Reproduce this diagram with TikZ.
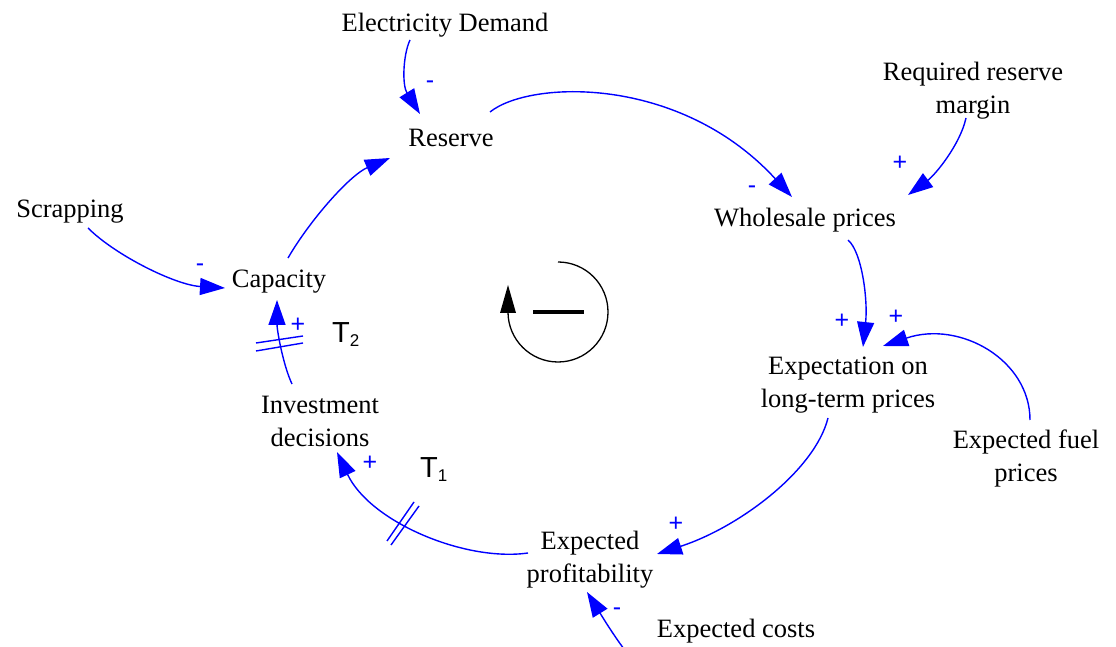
\documentclass[tikz,border=0pt]{standalone}
\usepackage{fontspec}
\setmainfont{Liberation Serif}
\newfontfamily\lsans{Liberation Sans}
\usetikzlibrary{arrows.meta}
\begin{document}
\begin{tikzpicture}[x=1pt,y=1pt,
  lbl/.style={font=\fontsize{26.5}{33}\selectfont, align=center, inner sep=0pt},
  link/.style={draw=blue, line width=1.4pt, -{Triangle[length=25pt,width=17pt]}},
  pol/.style={text=blue, font=\lsans\fontsize{25}{25}\selectfont, inner sep=0pt},
  hash/.style={draw=blue, line width=1.4pt},
  delay/.style={font=\lsans\fontsize{29}{29}\selectfont, inner sep=0pt, anchor=base west}]
\useasboundingbox (0,0) rectangle (1116,647);
% nodes
\node[lbl] (ed) at (445,622) {Electricity Demand};
\node[lbl] (res) at (451,509) {Reserve};
\node[lbl] (rrm) at (973,556) {Required reserve\\margin};
\node[lbl] (wp) at (805,427) {Wholesale prices};
\node[lbl] (scr) at (70,435) {Scrapping};
\node[lbl] (cap) at (279,365) {Capacity};
\node[lbl] (elp) at (848,262) {Expectation on\\long-term prices};
\node[lbl] (efp) at (1026,189) {Expected fuel\\prices};
\node[lbl] (inv) at (320,226) {Investment\\decisions};
\node[lbl] (prof) at (590,87) {Expected\\profitability};
\node[lbl] (ec) at (736,16) {Expected costs};
\coordinate (ecin) at (624,-2);
% links
\draw[link] ([shift={(-35,-15)}]ed.center) .. controls (403,592) and (402,562) .. ([shift={(-31,24)}]res.center);
\draw[link] ([shift={(39,26)}]res.center) .. controls (530,567) and (680,572) .. ([shift={(-13,23)}]wp.center);
\draw[link] ([shift={(-7,-27)}]rrm.center) .. controls (960,502) and (935,472) .. ([shift={(103,25)}]wp.center);
\draw[link] ([shift={(43,-20)}]wp.center) .. controls (862,395) and (868,347) .. ([shift={(15,38)}]elp.center);
\draw[link] ([shift={(4,38)}]efp.center) .. controls (1030,287) and (960,327) .. ([shift={(35,39)}]elp.center);
\draw[link] ([shift={(-20,-33)}]elp.center) .. controls (815,177) and (740,120) .. ([shift={(67,6)}]prof.center);
\draw[link] (ecin) .. controls (612,14) and (600,34) .. ([shift={(-3,-32)}]prof.center);
\draw[link] ([shift={(-62,7)}]prof.center) .. controls (465,85) and (370,125) .. ([shift={(17,-31)}]inv.center);
\draw[link] ([shift={(-28,37)}]inv.center) .. controls (283,282) and (277,317) .. ([shift={(-2,-18)}]cap.center);
\draw[link] ([shift={(18,-16)}]scr.center) .. controls (115,392) and (175,362) .. ([shift={(-54,-6)}]cap.center);
\draw[link] ([shift={(9,24)}]cap.center) .. controls (310,427) and (350,472) .. ([shift={(-61,-20)}]res.center);
% delay marks
\draw[hash] (387,106) -- (414,145);
\draw[hash] (391,102) -- (419,141);
\draw[hash] (256,304) -- (303,311);
\draw[hash] (256,296) -- (303,304);
% polarities
\node[pol] (p1) at (430,562) {-};
\node[pol] (p2) at (752,457) {-};
\node[pol] (p3) at (900,484) {+};
\node[pol] (p4) at (842,326) {+};
\node[pol] (p5) at (896,330) {+};
\node[pol] (p6) at (676,123) {+};
\node[pol] (p7) at (617,35) {-};
\node[pol] (p8) at (370,184) {+};
\node[pol] (p9) at (298,322) {+};
\node[pol] (p10) at (200,379) {-};
% delays
\node[delay] (t1) at (420,169) {T\raisebox{-4pt}{\fontsize{17}{17}\selectfont 1}};
\node[delay] (t2) at (332,304) {T\raisebox{-4pt}{\fontsize{17}{17}\selectfont 2}};
% loop symbol
\coordinate (loopc) at (558,335);
\draw[line width=1.3pt] ([shift={(0,50)}]loopc) arc[start angle=90, end angle=-180, radius=50];
\fill ([shift={(-58,-1)}]loopc) -- ([shift={(-42,-1)}]loopc) -- ([shift={(-50,27)}]loopc) -- cycle;
\draw[line width=3.5pt] ([shift={(-25,0)}]loopc) -- ([shift={(26,0)}]loopc);
\end{tikzpicture}
\end{document}
